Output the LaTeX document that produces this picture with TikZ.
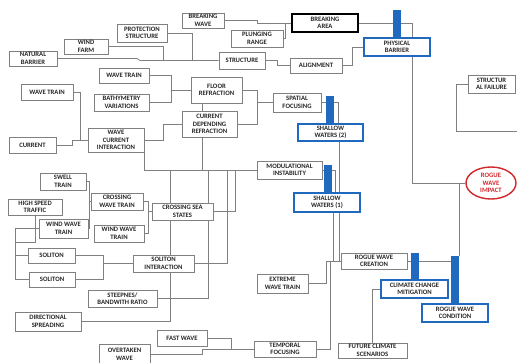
\documentclass[tikz,border=0pt]{standalone}
\usepackage{fontspec}
\setmainfont{Carlito}
\usepackage{xcolor}
\usepackage{tikz}
\usetikzlibrary{shapes.geometric, backgrounds}

\definecolor{barblue}{RGB}{31,106,190}
\definecolor{impactred}{RGB}{210,40,45}

\begin{document}
\begin{tikzpicture}[
    x=0.03cm, y=-0.03cm,
    factor/.style={rectangle, draw=black!50, fill=white, line width=0.7pt, inner sep=0.5pt, align=center, text=black!85, font=\fontsize{5.7}{6.5}\selectfont\bfseries},
    keyfactor/.style={factor, draw=barblue, line width=1.2pt},
    impactnode/.style={ellipse, draw=impactred, line width=1.2pt, fill=white, text=impactred, inner sep=0pt, align=center, font=\fontsize{5.7}{6.5}\selectfont\bfseries},
    bar/.style={rectangle, fill=barblue, inner sep=0pt, minimum width=0.24cm},
    link/.style={draw=black!50, line width=0.7pt}
]

\useasboundingbox (0,0) rectangle (517,362);
\clip (0,0) rectangle (517,362);

% Nodes
\node[factor, minimum width=1.26cm, minimum height=0.45cm] (brkwave) at (203,20.5) {BREAKING\\WAVE};
\node[factor, minimum width=1.5cm, minimum height=0.54cm] (protect) at (142,33) {PROTECTION\\STRUCTURE};
\node[factor, minimum width=1.32cm, minimum height=0.45cm] (windfarm) at (86,46.5) {WIND\\FARM};
\node[factor, minimum width=1.44cm, minimum height=0.45cm] (natbar) at (33,58.5) {NATURAL\\BARRIER};
\node[factor, minimum width=1.56cm, minimum height=0.51cm] (plunging) at (257,38.5) {PLUNGING\\RANGE};
\node[factor, minimum width=1.38cm, minimum height=0.51cm] (structure) at (242,60.5) {STRUCTURE};
\node[factor, draw=black, line width=1.5pt, minimum width=1.98cm, minimum height=0.54cm] (brkarea) at (325,23) {BREAKING\\AREA};
\node[keyfactor, minimum width=1.98cm, minimum height=0.54cm] (physbar) at (397,47) {PHYSICAL\\BARRIER};
\node[factor, minimum width=1.56cm, minimum height=0.45cm] (align) at (316,65.5) {ALIGNMENT};
\node[factor, minimum width=1.41cm, minimum height=0.54cm] (strfail) at (491.5,84) {STRUCTUR\\AL FAILURE};
\node[factor, minimum width=1.5cm, minimum height=0.45cm] (wavetrain) at (124,75.5) {WAVE TRAIN};
\node[factor, minimum width=1.53cm, minimum height=0.78cm] (floorref) at (216.5,90) {FLOOR\\REFRACTION};
\node[factor, minimum width=1.65cm, minimum height=0.51cm] (bathy) at (121.5,102.5) {BATHYMETRY\\VARIATIONS};
\node[factor, minimum width=1.56cm, minimum height=0.48cm] (wavetrainleft) at (47,92) {WAVE TRAIN};
\node[factor, minimum width=1.65cm, minimum height=0.78cm] (curref) at (209.5,124) {CURRENT\\DEPENDING\\REFRACTION};
\node[factor, minimum width=1.44cm, minimum height=0.57cm] (spatial) at (297,102.5) {SPATIAL\\FOCUSING};
\node[keyfactor, minimum width=1.95cm, minimum height=0.51cm] (shallowtwo) at (330.5,132.5) {SHALLOW\\WATERS (2)};
\node[factor, minimum width=1.41cm, minimum height=0.48cm] (current) at (32.5,145) {CURRENT};
\node[factor, minimum width=1.68cm, minimum height=0.72cm] (wci) at (116,140) {WAVE\\CURRENT\\INTERACTION};
\node[factor, minimum width=1.95cm, minimum height=0.54cm] (modinst) at (289.5,170) {MODULATIONAL\\INSTABILITY};
\node[keyfactor, minimum width=1.98cm, minimum height=0.57cm] (shallowone) at (327,202.5) {SHALLOW\\WATERS (1)};
\node[impactnode, minimum width=1.5cm, minimum height=0.96cm] (impact) at (491,183) {ROGUE\\WAVE\\IMPACT};
\node[factor, minimum width=1.38cm, minimum height=0.51cm] (swell) at (63,181.5) {SWELL\\TRAIN};
\node[factor, minimum width=1.56cm, minimum height=0.51cm] (crosswave) at (117,201.5) {CROSSING\\WAVE TRAIN};
\node[factor, minimum width=1.83cm, minimum height=0.51cm] (crosssea) at (182.5,211.5) {CROSSING SEA\\STATES};
\node[factor, minimum width=1.62cm, minimum height=0.48cm] (traffic) at (35,207) {HIGH SPEED\\TRAFFIC};
\node[factor, minimum width=1.47cm, minimum height=0.57cm] (windleft) at (63.5,228.5) {WIND WAVE\\TRAIN};
\node[factor, minimum width=1.5cm, minimum height=0.51cm] (windright) at (119,233.5) {WIND WAVE\\TRAIN};
\node[factor, minimum width=1.41cm, minimum height=0.45cm] (solone) at (51.5,255.5) {SOLITON};
\node[factor, minimum width=1.38cm, minimum height=0.45cm] (soltwo) at (52,279.5) {SOLITON};
\node[factor, minimum width=1.83cm, minimum height=0.51cm] (solint) at (163.5,263.5) {SOLITON\\INTERACTION};
\node[factor, minimum width=2.07cm, minimum height=0.51cm] (steep) at (122.5,298.5) {STEEPNES/\\BANDWITH RATIO};
\node[factor, minimum width=1.98cm, minimum height=0.57cm] (spread) at (48,321.5) {DIRECTIONAL\\SPREADING};
\node[factor, minimum width=1.53cm, minimum height=0.57cm] (extreme) at (282.5,283.5) {EXTREME\\WAVE TRAIN};
\node[factor, minimum width=1.98cm, minimum height=0.48cm] (creation) at (374,261) {ROGUE WAVE\\CREATION};
\node[keyfactor, minimum width=2.01cm, minimum height=0.54cm] (mitig) at (414.5,289) {CLIMATE CHANGE\\MITIGATION};
\node[keyfactor, minimum width=1.98cm, minimum height=0.54cm] (condition) at (455,313) {ROGUE WAVE\\CONDITION};
\node[factor, minimum width=1.5cm, minimum height=0.48cm] (fastwave) at (182,338) {FAST WAVE};
\node[factor, minimum width=1.53cm, minimum height=0.6cm] (overtaken) at (124.5,354) {OVERTAKEN\\WAVE};
\node[factor, minimum width=1.86cm, minimum height=0.48cm] (temporal) at (285,349) {TEMPORAL\\FOCUSING};
\node[factor, minimum width=2.07cm, minimum height=0.45cm] (future) at (372.5,350.5) {FUTURE CLIMATE\\SCENARIOS};
\coordinate (offright) at (517,131);

% Bars
\node[bar, minimum height=0.84cm] (barphys) at (397,24) {};
\node[bar, minimum height=0.81cm] (barspatial) at (330,109.5) {};
\node[bar, minimum height=0.84cm] (barmod) at (328,179) {};
\node[bar, minimum height=0.81cm] (barmitig) at (415,266.5) {};
\node[bar, minimum height=1.44cm] (barcond) at (455,280) {};

% Links
\begin{scope}[on background layer]
\draw[link] (natbar.east) -- (137,58.5) -- (140,60.5) -- (structure.west);
\draw[link] (windfarm.east) -| ([xshift=-1.65cm]structure.west);
\draw[link] (protect.east) -| ([xshift=-0.78cm]structure.west);
\draw[link] (brkwave.east) -| ([xshift=-1.02cm]brkarea.west) -- (brkarea.west);
\draw[link] (plunging.east) -- ++(2,0) |- (brkarea.west);
\draw[link] (brkarea.east) -| ([xshift=0.45cm]physbar.north);
\draw[link] (structure.east) -- ++(12,0) |- (align.west);
\draw[link] (align.east) -- ++(10,0) |- (physbar.west);
\draw[link] (strfail.west) -- ++(-11,0) |- (offright);
\draw[link] ([xshift=0.45cm]physbar.south) |- (impact.west);
\draw[link] (impact.west) -| (barcond.north east);
\draw[link] (wavetrain.east) -- ++(22,0) |- (floorref.west);
\draw[link] (bathy.east) -- ++(22,0) |- (floorref.west);
\draw[link] (floorref.-136) -- (floorref.-136 |- curref.north);
\draw[link] (floorref.east) -- ++(15,0) |- (spatial.west);
\draw[link] (curref.east) -- ++(20,0) |- (spatial.west);
\draw[link] (wci.east) -- ++(19,0) |- (curref.west);
\draw[link] (wavetrainleft.east) -- ++(7,0) |- (wci.west);
\draw[link] (current.east) -- ++(16,0) |- (wci.west);
\draw[link] (wci.south east) |- (modinst.west);
\draw[link] (curref.-117) -- (curref.-117 |- modinst.west);
\draw[link] (spread.east) -- ++(89,0) |- (modinst.west);
\draw[link] (steep.east) -- ++(51,0) |- (modinst.west);
\draw[link] (solint.east) -- ++(33,0) |- (modinst.west);
\draw[link] (crosssea.east) -- ++(22,0) |- (modinst.west);
\draw[link] (crosswave.east) -- ++(5,0) |- (crosssea.west);
\draw[link] (windright.east) -- ++(4,0) |- (crosssea.west);
\draw[link] (swell.east) -- ++(3,0) |- (crosswave.west);
\draw[link] (windleft.east) -- ++(1,0) |- (crosswave.west);
\draw[link] (traffic.south) |- (15,242);
\draw[link] (15,242) |- (windleft.west);
\draw[link] (15,242) |- (solone.west);
\draw[link] (15,242) |- (soltwo.west);
\draw[link] (solone.east) -- ++(28,0) |- (solint.west);
\draw[link] (soltwo.east) -- ++(28,0) |- (solint.west);
\draw[link] (spatial.east) -| ([xshift=0.225cm]shallowtwo.north);
\draw[link] (modinst.east) -| ([xshift=0.24cm]shallowone.north);
\draw[link] ([xshift=0.255cm]shallowtwo.south) |- (creation.west);
\draw[link] ([xshift=0.18cm]shallowone.south) |- (creation.west);
\draw[link] (extreme.east) -- ++(18,0) |- (creation.west);
\draw[link] (temporal.east) -- ++(14,0) |- (creation.west);
\draw[link] (creation.east) -- (creation.east -| barcond.west);
\draw[link] (fastwave.east) -- ++(24,0) |- (temporal.west);
\draw[link] (overtaken.east) -- ++(52,0) |- (temporal.west);
\draw[link] (future.north) |- (mitig.west);
\end{scope}

\end{tikzpicture}
\end{document}
